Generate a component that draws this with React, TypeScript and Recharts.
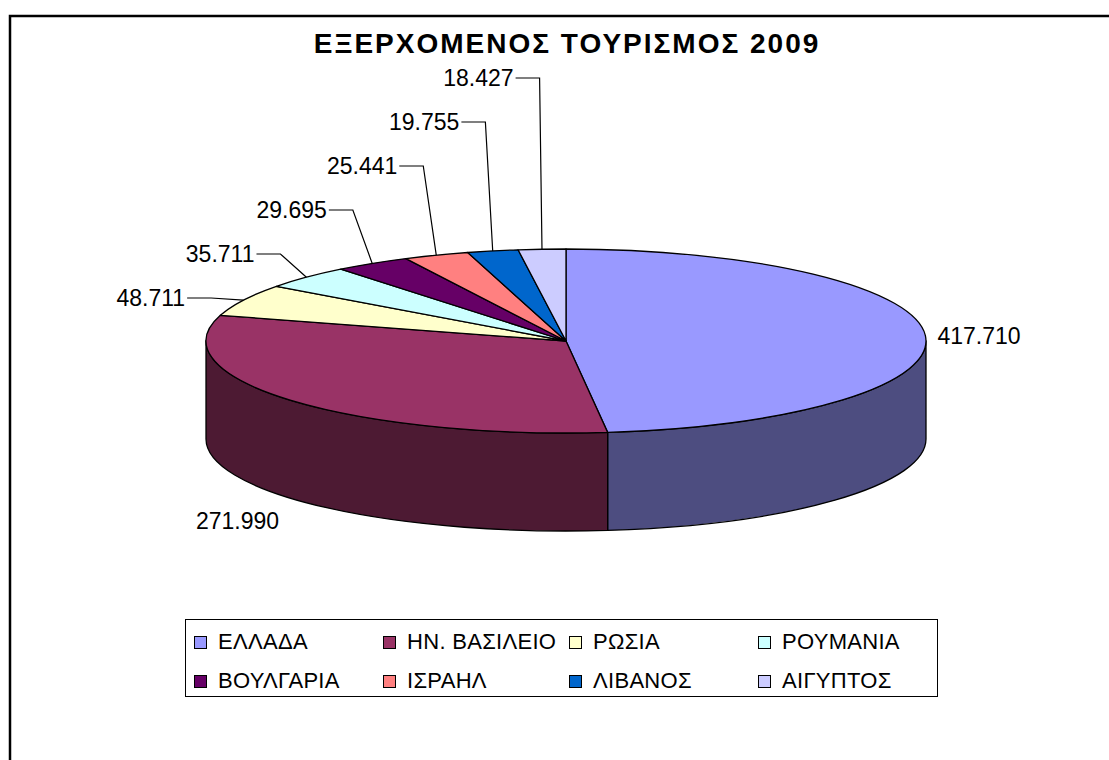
import React from 'react';
import { PieChart, Pie, Legend, Customized } from 'recharts';

const countries = ['ΕΛΛΑΔΑ', 'ΗΝ. ΒΑΣΙΛΕΙΟ', 'ΡΩΣΙΑ', 'ΡΟΥΜΑΝΙΑ', 'ΒΟΥΛΓΑΡΙΑ', 'ΙΣΡΑΗΛ', 'ΛΙΒΑΝΟΣ', 'ΑΙΓΥΠΤΟΣ'];
const visitors = [417710, 271990, 48711, 35711, 29695, 25441, 19755, 18427];
const COLORS = ['#9999FF', '#993366', '#FFFFCC', '#CCFFFF', '#660066', '#FF8080', '#0066CC', '#CCCCFF'];

const title = 'ΕΞΕΡΧΟΜΕΝΟΣ ΤΟΥΡΙΣΜΟΣ 2009';

const data = countries.map((name, i) => ({ name, value: visitors[i] }));

const RAD = Math.PI / 180;
const RY_RATIO = 92 / 360; // flattening of the 3d pie
const DEPTH = 98;
const FONT = '"Liberation Sans", Arial, sans-serif';

// greek thousands separator
const fmt = (v: number) => String(v).replace(/\B(?=(\d{3})+(?!\d))/g, '.');

const darken = (hex: string) => {
  const n = parseInt(hex.slice(1), 16);
  const c = [(n >> 16) & 255, (n >> 8) & 255, n & 255].map((x) => Math.round(x * 0.5));
  return `rgb(${c.join(',')})`;
};

const ept = (cx: number, cy: number, rx: number, ry: number, a: number) => [
  cx + rx * Math.cos(a * RAD),
  cy - ry * Math.sin(a * RAD),
];

// draws the elliptical top and the front wall of each slice
const renderSlice = (p: any) => {
  const { cx, cy, outerRadius: rx, index } = p;
  const ry = rx * RY_RATIO;
  const s = Math.max(p.startAngle, p.endAngle);
  const e = Math.min(p.startAngle, p.endAngle);
  const [sx, sy] = ept(cx, cy, rx, ry, s);
  const [ex, ey] = ept(cx, cy, rx, ry, e);
  const large = s - e > 180 ? 1 : 0;
  const top = `M${cx},${cy} L${sx},${sy} A${rx},${ry} 0 ${large} 1 ${ex},${ey} Z`;

  const hi = Math.min(s, 0);
  const lo = Math.max(e, -180);
  let side = '';
  if (lo < hi) {
    const [hx, hy] = ept(cx, cy, rx, ry, hi);
    const [lx, ly] = ept(cx, cy, rx, ry, lo);
    side = `M${hx},${hy} A${rx},${ry} 0 0 1 ${lx},${ly} L${lx},${ly + DEPTH} A${rx},${ry} 0 0 0 ${hx},${hy + DEPTH} Z`;
  }
  return (
    <g key={`slice-${index}`}>
      {side && <path d={side} fill={darken(COLORS[index])} stroke="#000" strokeWidth={1.3} strokeLinejoin="round" />}
      <path d={top} fill={COLORS[index]} stroke="#000" strokeWidth={1.3} strokeLinejoin="round" />
    </g>
  );
};

const total = visitors.reduce((a, b) => a + b, 0);
const firstSmall = visitors.findIndex((v) => v / total < 0.1);

const renderValue = (p: any) => {
  const { cx, cy, outerRadius: rx, index, value } = p;
  const ry = rx * RY_RATIO;
  const mid = (p.startAngle + p.endAngle) / 2;
  const [px, py] = ept(cx, cy, rx, ry, mid);
  const txt = { fontFamily: FONT, fontSize: 23, fill: '#000' };

  if (index < firstSmall) {
    const right = Math.cos(mid * RAD) > 0;
    const front = Math.sin(mid * RAD) < 0;
    return (
      <text key={`val-${index}`} x={px + (right ? 12 : -12)} y={front ? py + DEPTH + 22 : py} dy="0.36em" textAnchor={right ? 'start' : 'end'} style={txt}>
        {fmt(value)}
      </text>
    );
  }

  // small slices: labels stacked upwards with leader lines
  const j = index - firstSmall;
  const bx = cx + (px - cx) * 1.1;
  const by = cy - 43 - 44 * j;
  return (
    <g key={`val-${index}`}>
      <polyline points={`${px},${py} ${bx},${by} ${bx - 24},${by}`} fill="none" stroke="#000" strokeWidth={1.2} />
      <text x={bx - 26} y={by} dy="0.36em" textAnchor="end" style={txt}>
        {fmt(value)}
      </text>
    </g>
  );
};

const colX = [8, 197, 383, 572];
const rowY = [22, 61];

const renderLegend = () => (
  <div
    style={{
      position: 'relative',
      width: 753,
      height: 78,
      boxSizing: 'border-box',
      border: '1.5px solid #000',
      background: '#fff',
      fontFamily: FONT,
    }}
  >
    {countries.map((name, i) => (
      <div
        key={name}
        style={{
          position: 'absolute',
          left: colX[i % 4],
          top: rowY[Math.floor(i / 4)] - 13,
          height: 26,
          display: 'flex',
          alignItems: 'center',
          whiteSpace: 'nowrap',
        }}
      >
        <span
          style={{
            display: 'inline-block',
            width: 11,
            height: 11,
            background: COLORS[i],
            border: '1px solid #000',
            marginRight: 11,
          }}
        />
        <span style={{ fontSize: 22, letterSpacing: 0.3, lineHeight: '26px', color: '#000' }}>{name}</span>
      </div>
    ))}
  </div>
);

const Frame = () => (
  <g>
    <rect x={10} y={16} width={1200} height={900} fill="none" stroke="#000" strokeWidth={2.5} />
    <text x={567} y={53} textAnchor="middle" style={{ fontFamily: FONT, fontSize: 28, fontWeight: 'bold', letterSpacing: 2, fill: '#000' }}>
      {title}
    </text>
  </g>
);

const App: React.FC = () => {
  return (
    <div style={{ position: 'fixed', left: 0, top: 0, width: 1109, height: 760, overflow: 'hidden', background: '#fff' }}>
      <PieChart width={1109} height={760} margin={{ top: 0, right: 0, bottom: 0, left: 0 }}>
        <Customized component={Frame} />
        {/* slices */}
        <Pie
          data={data}
          dataKey="value"
          nameKey="name"
          cx={566}
          cy={341}
          outerRadius={360}
          startAngle={90}
          endAngle={-270}
          fill="none"
          stroke="none"
          label={renderSlice}
          labelLine={false}
          isAnimationActive={false}
        />
        {/* value labels */}
        <Pie
          data={data}
          dataKey="value"
          nameKey="name"
          cx={566}
          cy={341}
          outerRadius={360}
          startAngle={90}
          endAngle={-270}
          fill="none"
          stroke="none"
          label={renderValue}
          labelLine={false}
          isAnimationActive={false}
        />
        <Legend
          content={renderLegend}
          wrapperStyle={{ position: 'absolute', left: 185, top: 619, width: 753, height: 78, margin: 0 }}
        />
      </PieChart>
    </div>
  );
};

export default App;
